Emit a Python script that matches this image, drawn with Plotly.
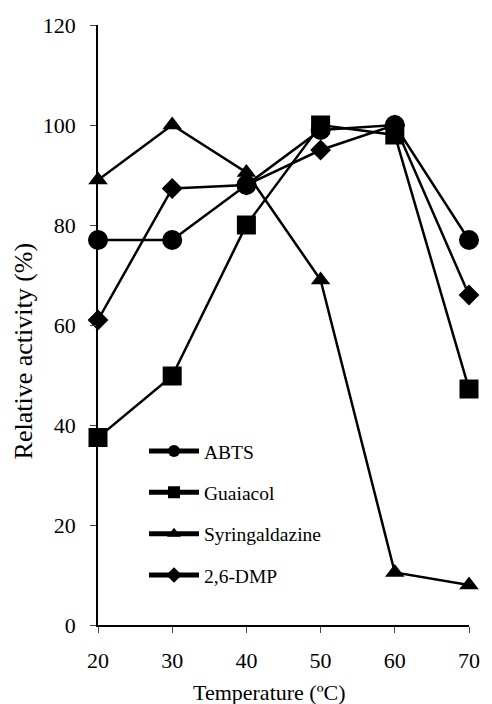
import plotly.graph_objects as go

temps = [20, 30, 40, 50, 60, 70]
abts = [77, 77, 88, 99, 100, 77]
guaiacol = [37.5, 49.8, 80, 100, 98, 47.2]
syring = [89, 100, 90.5, 69, 10.5, 8]
dmp = [61, 87.3, 88, 95, 100, 66]
yticks = [0, 20, 40, 60, 80, 100, 120]

series = [
    ("ABTS", abts, "circle", 20),
    ("Guaiacol", guaiacol, "square", 19),
    ("Syringaldazine", syring, "triangle-up", 17),
    ("2,6-DMP", dmp, "diamond", 16),
]

fig = go.Figure()
for name, vals, sym, sz in series:
    fig.add_trace(go.Scatter(
        x=temps, y=vals, name=name, mode="lines+markers", legendgroup=name,
        line=dict(color="black", width=2.5),
        marker=dict(symbol=sym, size=sz, color="black"),
        cliponaxis=False,
    ))

font = "Liberation Serif, Times New Roman, serif"
fig.update_layout(
    width=492, height=704,
    margin=dict(l=98, r=15, t=25, b=79),
    paper_bgcolor="white", plot_bgcolor="white",
    font=dict(family=font, size=22, color="black"),
    showlegend=True,
    legend=dict(x=0.124, y=0.322, xanchor="left", yanchor="top",
                bgcolor="rgba(0,0,0,0)", font=dict(size=19.5, family=font),
                tracegroupgap=13, itemsizing="constant", itemwidth=50),
    xaxis=dict(range=[20, 70], tickvals=temps, ticks="outside", ticklen=6,
               showline=True, linecolor="black", linewidth=1.5, showgrid=False,
               zeroline=False, tickfont=dict(size=22, family=font), ticklabelstandoff=9),
    yaxis=dict(range=[0, 120], tickvals=yticks, ticks="outside",
               ticklen=6, showline=True, linecolor="black", linewidth=1.5, showgrid=False,
               zeroline=False, tickfont=dict(size=22, family=font), ticklabelstandoff=10),
    annotations=[
        dict(text="Temperature (ºC)", xref="paper", yref="paper", x=0.462, y=-0.1117,
             xanchor="center", yanchor="middle", showarrow=False, font=dict(size=22)),
        dict(text="Relative activity (%)", xref="paper", yref="paper", x=-0.2005, y=0.457,
             xanchor="center", yanchor="middle", textangle=-90, showarrow=False,
             font=dict(size=26)),
    ],
)
fig.write_html("out.html")
